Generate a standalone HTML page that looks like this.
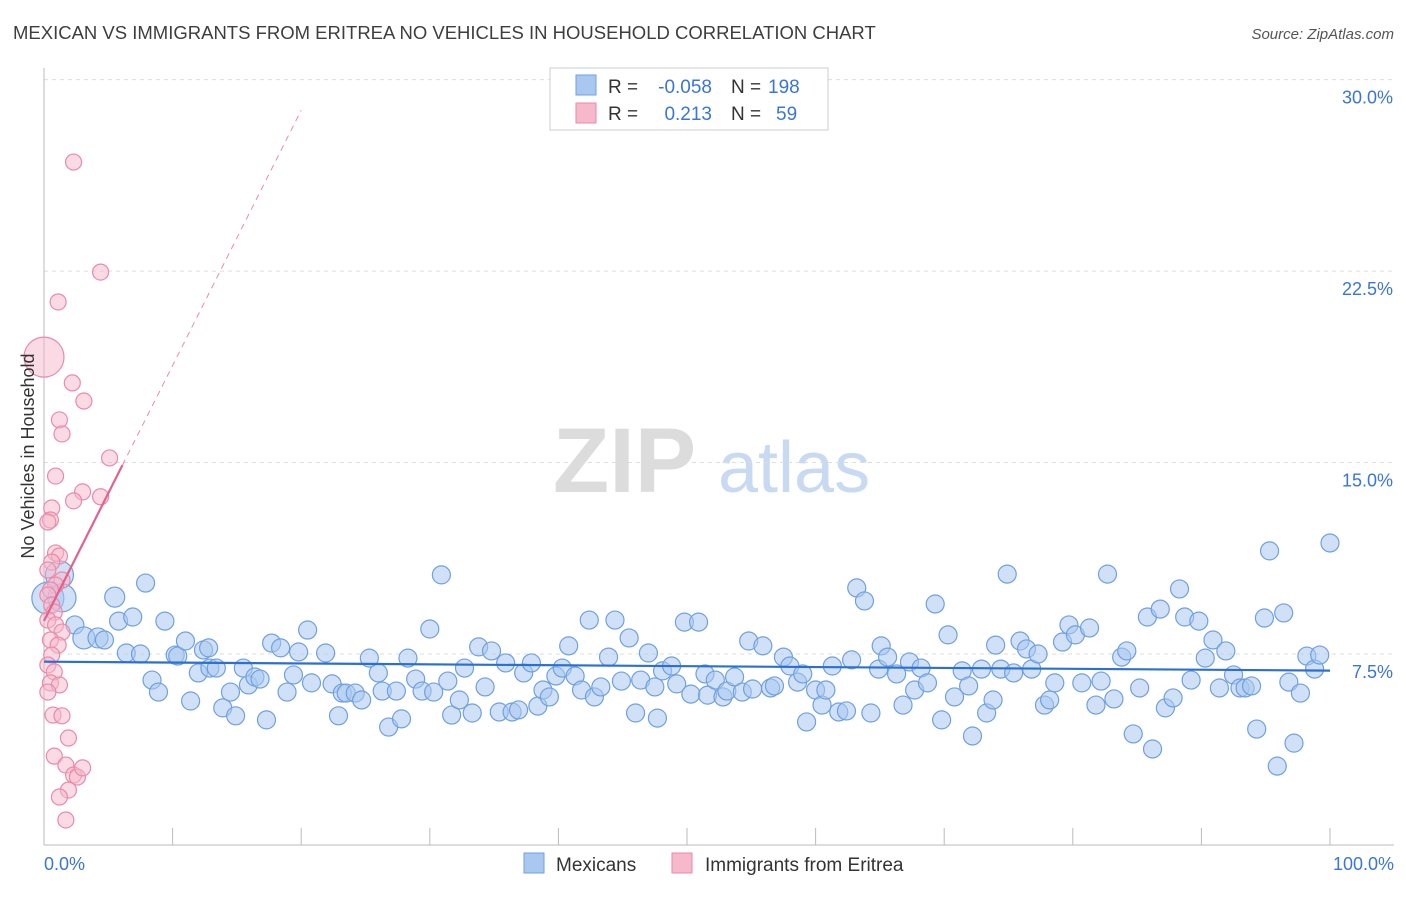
<!DOCTYPE html>
<html><head><meta charset="utf-8"><style>
body{margin:0;background:#fff;font-family:"Liberation Sans",sans-serif;}
svg text{font-family:"Liberation Sans",sans-serif;}
</style></head><body>
<svg id="chart" width="1406" height="892" viewBox="0 0 1406 892" xmlns="http://www.w3.org/2000/svg">
<text x="13" y="39" font-size="18.5" fill="#3e3e3e">MEXICAN VS IMMIGRANTS FROM ERITREA NO VEHICLES IN HOUSEHOLD CORRELATION CHART</text>
<text x="1394" y="39" font-size="15" fill="#555" text-anchor="end" font-style="italic">Source: ZipAtlas.com</text>
<g>
<text x="553" y="492" font-size="92" fill="#dcdcdc" font-family="Liberation Serif,serif" font-weight="bold">ZIP</text>
<text x="718" y="492" font-size="72" fill="#c8daf2">atlas</text>
</g>
<g id="grid"></g>
<g id="axes"></g>
<g id="marks"></g>
<text transform="translate(34,456) rotate(-90)" font-size="18" fill="#333" text-anchor="middle">No Vehicles in Household</text>
<g>
<rect x="550" y="68" width="278" height="62" fill="#fff" stroke="#ccc"/>
<rect x="576" y="75" width="20" height="20" fill="#a9c8f0" stroke="#6fa0e0"/>
<rect x="576" y="103" width="20" height="20" fill="#f6b8cb" stroke="#eb8aa8"/>
<text x="608" y="93" font-size="19" fill="#333">R =</text>
<text x="712" y="93" font-size="19" fill="#3a76d8" text-anchor="end">-0.058</text>
<text x="731" y="93" font-size="19" fill="#333">N =</text>
<text x="768" y="93" font-size="19" fill="#3a76d8">198</text>
<text x="608" y="120" font-size="19" fill="#333">R =</text>
<text x="712" y="120" font-size="19" fill="#3a76d8" text-anchor="end">0.213</text>
<text x="731" y="120" font-size="19" fill="#333">N =</text>
<text x="776" y="120" font-size="19" fill="#3a76d8">59</text>
</g>
<g>
<rect x="524" y="853" width="20" height="20" fill="#a9c8f0" stroke="#6fa0e0"/>
<text x="556" y="871" font-size="19" fill="#333">Mexicans</text>
<rect x="672" y="853" width="20" height="20" fill="#f6b8cb" stroke="#eb8aa8"/>
<text x="705" y="871" font-size="19" fill="#333">Immigrants from Eritrea</text>
</g>
</svg>
<script>
const yTicks=[7.5,15,22.5,30];
const yTickLabels=["7.5%","15.0%","22.5%","30.0%"];
const xTickValues=[0,10,20,30,40,50,60,70,80,90,100];
const xAxisLabels=["0.0%","100.0%"];
const mexX=[0.3,1.2,1.4,2.4,3.1,4.2,4.7,5.5,5.8,6.9,7.9,6.4,7.5,8.4,8.9,9.4,10.2,10.4,11.0,11.4,12.0,12.4,12.8,12.9,13.4,13.9,14.5,14.9,15.5,15.9,16.4,16.8,17.3,17.7,18.4,18.9,19.4,19.8,20.5,20.8,21.9,22.4,22.9,23.2,23.5,24.2,24.7,25.3,26.0,26.3,26.8,27.4,27.8,28.3,28.9,29.4,30.0,30.3,30.9,31.4,31.7,32.3,32.7,33.3,33.8,34.3,34.8,35.4,35.9,36.4,36.9,37.3,37.9,38.4,38.8,39.3,39.8,40.3,40.8,41.3,41.8,42.4,42.8,43.3,43.9,44.4,44.9,45.5,46.0,46.4,47.0,47.5,47.7,48.1,48.8,49.2,49.8,50.3,50.9,51.4,51.6,52.2,52.8,53.1,53.7,54.3,54.8,55.1,55.9,56.5,56.8,57.5,58.0,58.6,59.0,59.3,60.0,60.5,60.8,61.3,61.8,62.4,62.8,63.2,63.8,64.3,64.9,65.1,65.6,66.3,66.8,67.3,67.7,68.2,68.7,69.3,69.8,70.3,70.8,71.4,71.9,72.2,72.9,73.3,73.8,74.0,74.4,74.9,75.4,75.9,76.4,76.8,77.3,77.8,78.2,78.6,79.2,79.7,80.2,80.7,81.3,81.8,82.2,82.7,83.2,83.8,84.2,84.7,85.2,85.8,86.2,86.8,87.2,87.8,88.3,88.7,89.2,89.8,90.3,90.9,91.4,91.9,92.5,93.0,93.4,93.9,94.3,94.9,95.3,95.9,96.4,96.8,97.2,97.7,98.2,98.8,99.2,100.0];
const mexY=[9.69,10.6,9.7,8.64,8.13,8.13,8.05,9.73,8.79,8.95,10.28,7.54,7.5,6.48,6.01,8.79,7.46,7.42,8.01,5.66,6.76,7.66,7.74,6.95,6.95,5.39,6.01,5.08,6.95,6.29,6.60,6.52,4.92,7.93,7.74,6.01,6.68,7.58,8.44,6.37,7.54,6.33,5.08,5.97,5.97,5.97,5.70,7.34,6.76,6.05,4.64,6.05,4.96,7.34,6.52,6.05,8.48,6.01,10.60,6.44,5.11,5.70,6.95,5.19,7.78,6.21,7.62,5.23,7.15,5.23,5.31,6.76,7.15,5.46,6.09,5.82,6.64,6.95,7.82,6.64,6.09,8.83,5.82,6.21,7.38,8.83,6.44,8.13,5.19,6.48,7.54,6.21,4.99,6.84,7.03,6.33,8.75,5.93,8.75,6.72,5.89,6.48,5.82,6.05,6.60,6.01,8.01,6.13,7.82,6.17,6.25,7.38,7.03,6.40,6.72,4.84,6.09,5.50,6.09,7.03,5.23,5.27,7.27,10.09,9.58,5.19,6.91,7.82,7.38,6.72,5.50,7.19,6.09,6.95,6.37,9.46,4.92,8.25,5.82,6.84,6.25,4.29,6.91,5.19,5.70,7.85,6.91,10.63,6.76,8.01,7.70,6.91,7.50,5.50,5.70,6.37,7.97,8.64,8.25,6.37,8.52,5.50,6.44,10.63,5.74,7.38,7.62,4.37,6.17,8.95,3.78,9.26,5.39,5.78,10.05,8.95,6.48,8.79,7.34,8.05,6.17,7.62,6.68,6.17,6.17,6.25,4.56,8.91,11.54,3.11,9.11,6.40,4.01,5.97,7.42,6.91,7.46,11.85];
const mexBig=[16,14,14,9,11,10,9,10,9,9,9];
const eriX=[0,2.3,4.4,1.1,2.2,3.1,1.2,1.4,0.9,5.1,3.0,4.4,2.3,0.6,0.5,0.3,0.9,1.2,0.6,0.3,1.4,0.9,0.5,0.3,0.6,0.8,0.3,0.9,1.4,0.5,1.1,0.6,0.3,0.8,0.5,1.2,0.3,0.7,1.4,1.9,0.8,1.7,2.3,2.6,3.0,1.9,1.2,1.7];
const eriY=[19.13,26.77,22.46,21.29,18.12,17.41,16.67,16.12,14.47,15.18,13.85,13.66,13.50,13.22,12.75,12.67,11.46,11.34,11.10,10.79,10.40,10.20,10.01,9.81,9.42,9.14,8.83,8.64,8.36,8.05,7.85,7.46,7.07,6.80,6.37,6.29,6.01,5.11,5.08,4.21,3.50,3.15,2.76,2.68,3.04,2.17,1.90,1.00];
const mexTrend=[7.2,6.85];
const eriTrend=[8.8,14.9];
const eriTrendEndX=6.1;

const X0=44,X1=1330,YB=845.5,PX=25.53;
const xs=v=>X0+(X1-X0)*v/100;
const ys=v=>YB-v*PX;
const NS="http://www.w3.org/2000/svg";
function mk(tag,parent,attrs){const e=document.createElementNS(NS,tag);for(const k in attrs)e.setAttribute(k,attrs[k]);parent.appendChild(e);return e;}
const grid=document.getElementById('grid'),axes=document.getElementById('axes'),marks=document.getElementById('marks');
yTicks.forEach((t,i)=>{
  const l=mk('line',grid,{x1:44,x2:1394,y1:ys(t),y2:ys(t),stroke:'#dddddd','stroke-dasharray':'4,4'});
  
  
  const tx=mk('text',axes,{x:1393,y:ys(t)+24,'font-size':18,fill:'#3a76d8','text-anchor':'end'});
  tx.textContent=yTickLabels[i];
  
  
});
const ax=mk('line',axes,{x1:44,x2:44,y1:68,y2:845,stroke:'#bbb'});


const bx=mk('line',axes,{x1:44,x2:1394,y1:845,y2:845,stroke:'#bbb'});


xTickValues.forEach(v=>{
  const t=mk('line',axes,{x1:xs(v),x2:xs(v),y1:828,y2:845,stroke:'#bbb'});
  
  
});
const xl0=mk('text',axes,{x:44,y:870,'font-size':18,fill:'#3a76d8'});
xl0.textContent=xAxisLabels[0];


const xl1=mk('text',axes,{x:1394,y:870,'font-size':18,fill:'#3a76d8','text-anchor':'end'});
xl1.textContent=xAxisLabels[1];



mexX.forEach((v,i)=>{
  const c=mk('circle',marks,{cx:xs(v),cy:ys(mexY[i]),r:mexBig[i]||9,fill:'rgba(169,200,240,0.55)',stroke:'#6fa0e0','stroke-width':1.2});
  
  
});
eriX.forEach((v,i)=>{
  const c=mk('circle',marks,{cx:xs(v),cy:ys(eriY[i]),r:i===0?20:8,fill:'rgba(246,184,203,0.5)',stroke:'#eb8aa8','stroke-width':1.2});
  
  
});
const slope=(eriTrend[1]-eriTrend[0])/eriTrendEndX;
const ed=mk('line',marks,{x1:xs(eriTrendEndX),y1:ys(eriTrend[1]),x2:xs(20),y2:ys(eriTrend[0]+slope*20),stroke:'#eb8aa8','stroke-width':1,'stroke-dasharray':'6,5'});


const el=mk('line',marks,{x1:xs(0),y1:ys(eriTrend[0]),x2:xs(eriTrendEndX),y2:ys(eriTrend[1]),stroke:'#e5608a','stroke-width':2.2});


const ml=mk('line',marks,{x1:xs(0),y1:ys(mexTrend[0]),x2:xs(100),y2:ys(mexTrend[1]),stroke:'#2a6fd6','stroke-width':2.2});


</script>
</body></html>
